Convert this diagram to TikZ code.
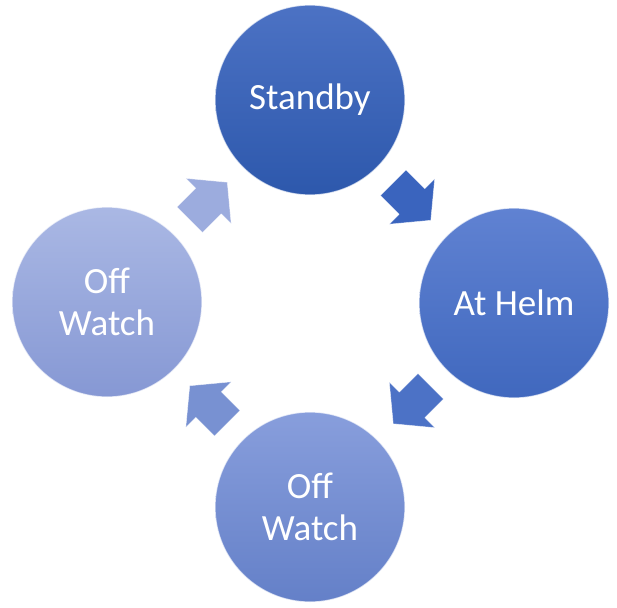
\documentclass[tikz,border=0pt]{standalone}
\usepackage{fontspec}
\setmainfont{Carlito}
\usetikzlibrary{calc}

\definecolor{sbtop}{RGB}{76,114,196}
\definecolor{sbbot}{RGB}{45,88,172}
\definecolor{ahtop}{RGB}{96,130,210}
\definecolor{ahbot}{RGB}{64,104,190}
\definecolor{bwtop}{RGB}{136,158,220}
\definecolor{bwbot}{RGB}{100,128,200}
\definecolor{lwtop}{RGB}{170,184,228}
\definecolor{lwbot}{RGB}{134,152,212}
\definecolor{arone}{RGB}{58,100,190}
\definecolor{artwo}{RGB}{76,114,198}
\definecolor{arthree}{RGB}{120,145,210}
\definecolor{arfour}{RGB}{156,172,222}

\begin{document}
\begin{tikzpicture}
  [x=1pt, y=-1pt, auto=center,
   state/.style={circle, minimum size=190pt, inner sep=0pt, text=white,
     align=center, font=\fontsize{37}{42}\selectfont,
     draw=white, draw opacity=.7, line width=1.2pt},
   turn/.style={draw=white, draw opacity=.5, line width=.6pt, line join=round}]
    \useasboundingbox (0,0) rectangle (617,607);
    \foreach \num/\x/\y/\txt in {sb/310/100/Standby,ah/514/303/At Helm,
                  bw/310/507/{Off\\Watch},lw/107/302/{Off\\Watch}}{
      \node[state, top color=\num top, bottom color=\num bot]
      (\num) at (\x,\y) {\txt}; }
    \foreach \from/\to/\ang/\col in {sb/ah/-45/arone,ah/bw/-135/artwo,
                  bw/lw/135/arthree,lw/sb/45/arfour}{
      \path[turn, fill=\col, shift={($(\from)!.5!(\to)$)}, rotate=\ang]
      (-26.5,-18) -- (0,-18) -- (0,-32) -- (26.5,0) -- (0,32) -- (0,18)
      -- (-26.5,18) -- cycle;}
\end{tikzpicture}
\end{document}
